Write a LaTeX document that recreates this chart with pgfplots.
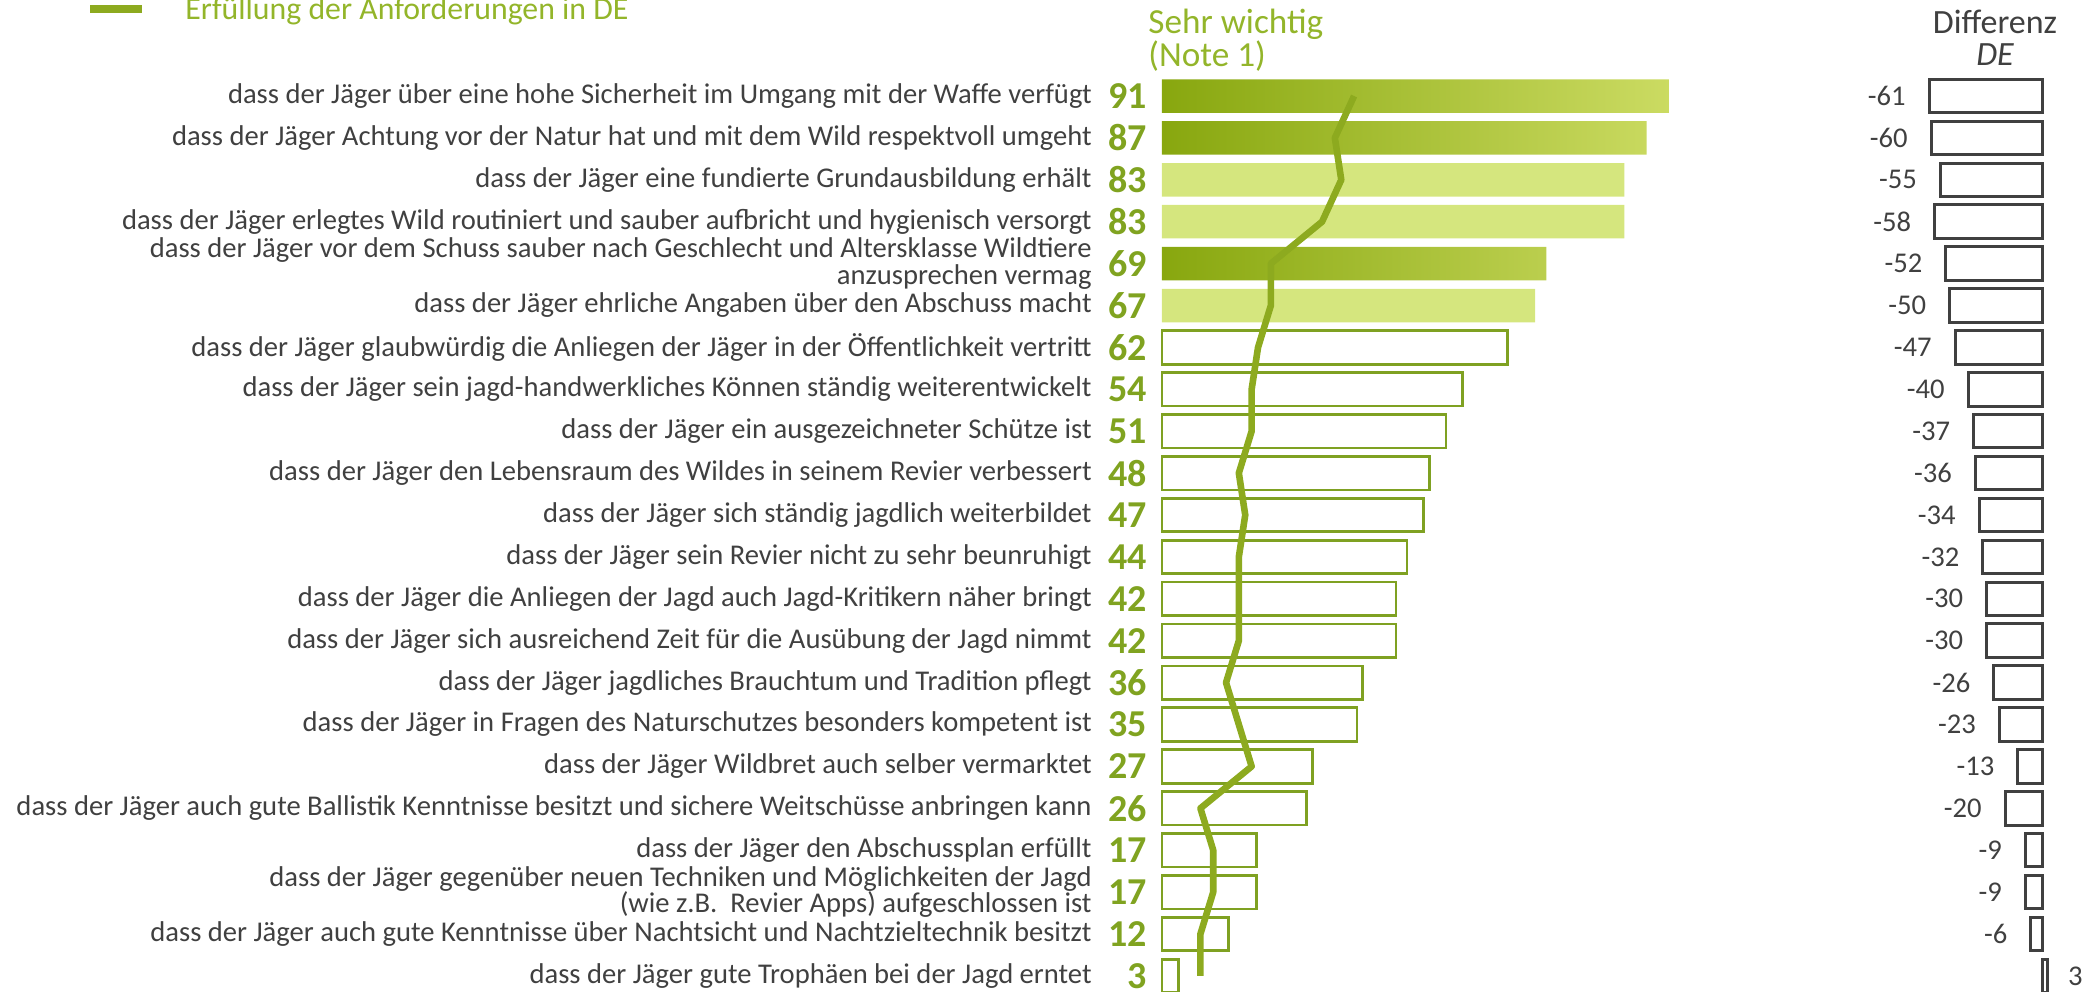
\documentclass[border=0pt]{standalone}
\usepackage{fontspec}
\setmainfont{Carlito}
\usepackage{pgfplots}
\pgfplotsset{compat=1.18}
\definecolor{lgreen}{HTML}{8DAA1F}
\definecolor{ngreen}{HTML}{80A320}
\definecolor{hgreen}{HTML}{93B52A}
\definecolor{ogreen}{HTML}{7FA122}
\definecolor{lfill}{HTML}{D5E67E}
\definecolor{gleft}{HTML}{88A70F}
\definecolor{gright}{HTML}{CBDB62}
\definecolor{dgray}{HTML}{404040}
\begin{document}
\begin{tikzpicture}
\useasboundingbox (0pt,0pt) rectangle (1049.5pt,-495.5pt);
% legend
\draw[lgreen, line width=4pt] (45pt,-4.25pt) -- (71pt,-4.25pt);
\node[anchor=base west, inner sep=0pt, text=hgreen, font=\fontsize{15.9}{15.9}\selectfont] at (92.5pt,-9.5pt) {Erfüllung der Anforderungen in DE};
% headers
\node[anchor=base west, inner sep=0pt, text=hgreen, font=\fontsize{17.6}{17.6}\selectfont] at (574pt,-16.5pt) {Sehr wichtig};
\node[anchor=base west, inner sep=0pt, text=hgreen, font=\fontsize{17.6}{17.6}\selectfont] at (574pt,-33pt) {(Note 1)};
\node[anchor=base, inner sep=0pt, text=dgray, font=\fontsize{17}{17}\selectfont] at (997.5pt,-16.5pt) {Differenz};
\node[anchor=base, inner sep=0pt, text=dgray, font=\fontsize{17}{17}\selectfont\itshape] at (997.5pt,-32.5pt) {DE};
% main bars
\begin{axis}[
  at={(581pt,-37.525pt)}, anchor=north west,
  scale only axis, width=278.5pt, height=460.9pt,
  xmin=0, xmax=100, ymin=-0.5, ymax=21.5, y dir=reverse,
  axis x line=none, axis y line*=left, y axis line style={draw=none},
  ytick={0,...,21}, ytick style={draw=none}, major tick length=0pt,
  yticklabels={
    {dass der Jäger über eine hohe Sicherheit im Umgang mit der Waffe verfügt},
    {dass der Jäger Achtung vor der Natur hat und mit dem Wild respektvoll umgeht},
    {dass der Jäger eine fundierte Grundausbildung erhält},
    {dass der Jäger erlegtes Wild routiniert und sauber aufbricht und hygienisch versorgt},
    {dass der Jäger vor dem Schuss sauber nach Geschlecht und Altersklasse Wildtiere\\[-1pt]anzusprechen vermag},
    {dass der Jäger ehrliche Angaben über den Abschuss macht},
    {dass der Jäger glaubwürdig die Anliegen der Jäger in der Öffentlichkeit vertritt},
    {dass der Jäger sein jagd-handwerkliches Können ständig weiterentwickelt},
    {dass der Jäger ein ausgezeichneter Schütze ist},
    {dass der Jäger den Lebensraum des Wildes in seinem Revier verbessert},
    {dass der Jäger sich ständig jagdlich weiterbildet},
    {dass der Jäger sein Revier nicht zu sehr beunruhigt},
    {dass der Jäger die Anliegen der Jagd auch Jagd-Kritikern näher bringt},
    {dass der Jäger sich ausreichend Zeit für die Ausübung der Jagd nimmt},
    {dass der Jäger jagdliches Brauchtum und Tradition pflegt},
    {dass der Jäger in Fragen des Naturschutzes besonders kompetent ist},
    {dass der Jäger Wildbret auch selber vermarktet},
    {dass der Jäger auch gute Ballistik Kenntnisse besitzt und sichere Weitschüsse anbringen kann},
    {dass der Jäger den Abschussplan erfüllt},
    {dass der Jäger gegenüber neuen Techniken und Möglichkeiten der Jagd\\[-1pt](wie z.B.~~Revier Apps) aufgeschlossen ist},
    {dass der Jäger auch gute Kenntnisse über Nachtsicht und Nachtzieltechnik besitzt},
    {dass der Jäger gute Trophäen bei der Jagd erntet}},
  yticklabel style={font=\fontsize{14.3}{14.3}\selectfont, text=dgray, align=right, inner sep=0pt, xshift=-35pt},
  clip=false,
]
\addplot[xbar, bar width=0.8, bar shift=0pt, draw=none, left color=gleft, right color=gright]
  coordinates {(91,0) (87,1) (69,4)};
\addplot[xbar, bar width=0.8, bar shift=0pt, draw=none, fill=lfill]
  coordinates {(83,2) (83,3) (67,5)};
\addplot[xbar, bar width=0.8, bar shift=0pt, draw=ogreen, fill=white, line width=1.35pt]
  coordinates {(62,6) (54,7) (51,8) (48,9) (47,10) (44,11) (42,12) (42,13) (36,14) (35,15) (27,16) (26,17) (17,18) (17,19) (12,20) (3,21)};
\addplot[draw=none, mark=none, nodes near coords, point meta=explicit symbolic,
  every node near coord/.append style={anchor=east, inner sep=0pt, xshift=-7.5pt, font=\fontsize{19}{19}\selectfont\bfseries, text=ngreen}]
  coordinates {(0,0)[91] (0,1)[87] (0,2)[83] (0,3)[83] (0,4)[69] (0,5)[67] (0,6)[62] (0,7)[54] (0,8)[51] (0,9)[48] (0,10)[47] (0,11)[44] (0,12)[42] (0,13)[42] (0,14)[36] (0,15)[35] (0,16)[27] (0,17)[26] (0,18)[17] (0,19)[17] (0,20)[12] (0,21)[3]};
\end{axis}
% Erfuellung line
\begin{axis}[
  at={(581pt,-37.525pt)}, anchor=north west,
  scale only axis, width=278.5pt, height=460.9pt,
  xmin=0, xmax=87, ymin=-0.5, ymax=21.5, y dir=reverse,
  hide axis, clip=false,
]
\addplot[lgreen, line width=3.3pt, mark=none, line join=round]
  coordinates {(30,0) (27,1) (28,2) (25,3) (17,4) (17,5) (15,6) (14,7) (14,8) (12,9) (13,10) (12,11) (12,12) (12,13) (10,14) (12,15) (14,16) (6,17) (8,18) (8,19) (6,20) (6,21)};
\end{axis}
% Differenz
\begin{axis}[
  at={(956.25pt,-37.525pt)}, anchor=north west,
  scale only axis, width=69.375pt, height=460.9pt,
  xmin=-70, xmax=5, ymin=-0.5, ymax=21.5, y dir=reverse,
  hide axis, clip=false,
]
\addplot[xbar, bar width=0.8, bar shift=0pt, fill=white, draw=dgray, line width=1.5pt,
  nodes near coords, point meta=explicit symbolic,
  every node near coord/.append style={anchor=east, inner sep=0pt, xshift=-11pt, font=\fontsize{14.3}{14.3}\selectfont, text=dgray}]
  coordinates {(-61,0)[-61] (-60,1)[-60] (-55,2)[-55] (-58,3)[-58] (-52,4)[-52] (-50,5)[-50] (-47,6)[-47] (-40,7)[-40] (-37,8)[-37] (-36,9)[-36] (-34,10)[-34] (-32,11)[-32] (-30,12)[-30] (-30,13)[-30] (-26,14)[-26] (-23,15)[-23] (-13,16)[-13] (-20,17)[-20] (-9,18)[-9] (-9,19)[-9] (-6,20)[-6]};
\addplot[xbar, bar width=0.8, bar shift=0pt, fill=white, draw=dgray, line width=1.5pt,
  nodes near coords, point meta=explicit symbolic,
  every node near coord/.append style={anchor=west, inner sep=0pt, xshift=9.5pt, font=\fontsize{14.3}{14.3}\selectfont, text=dgray}]
  coordinates {(3,21)[3]};
\end{axis}
\end{tikzpicture}
\end{document}
